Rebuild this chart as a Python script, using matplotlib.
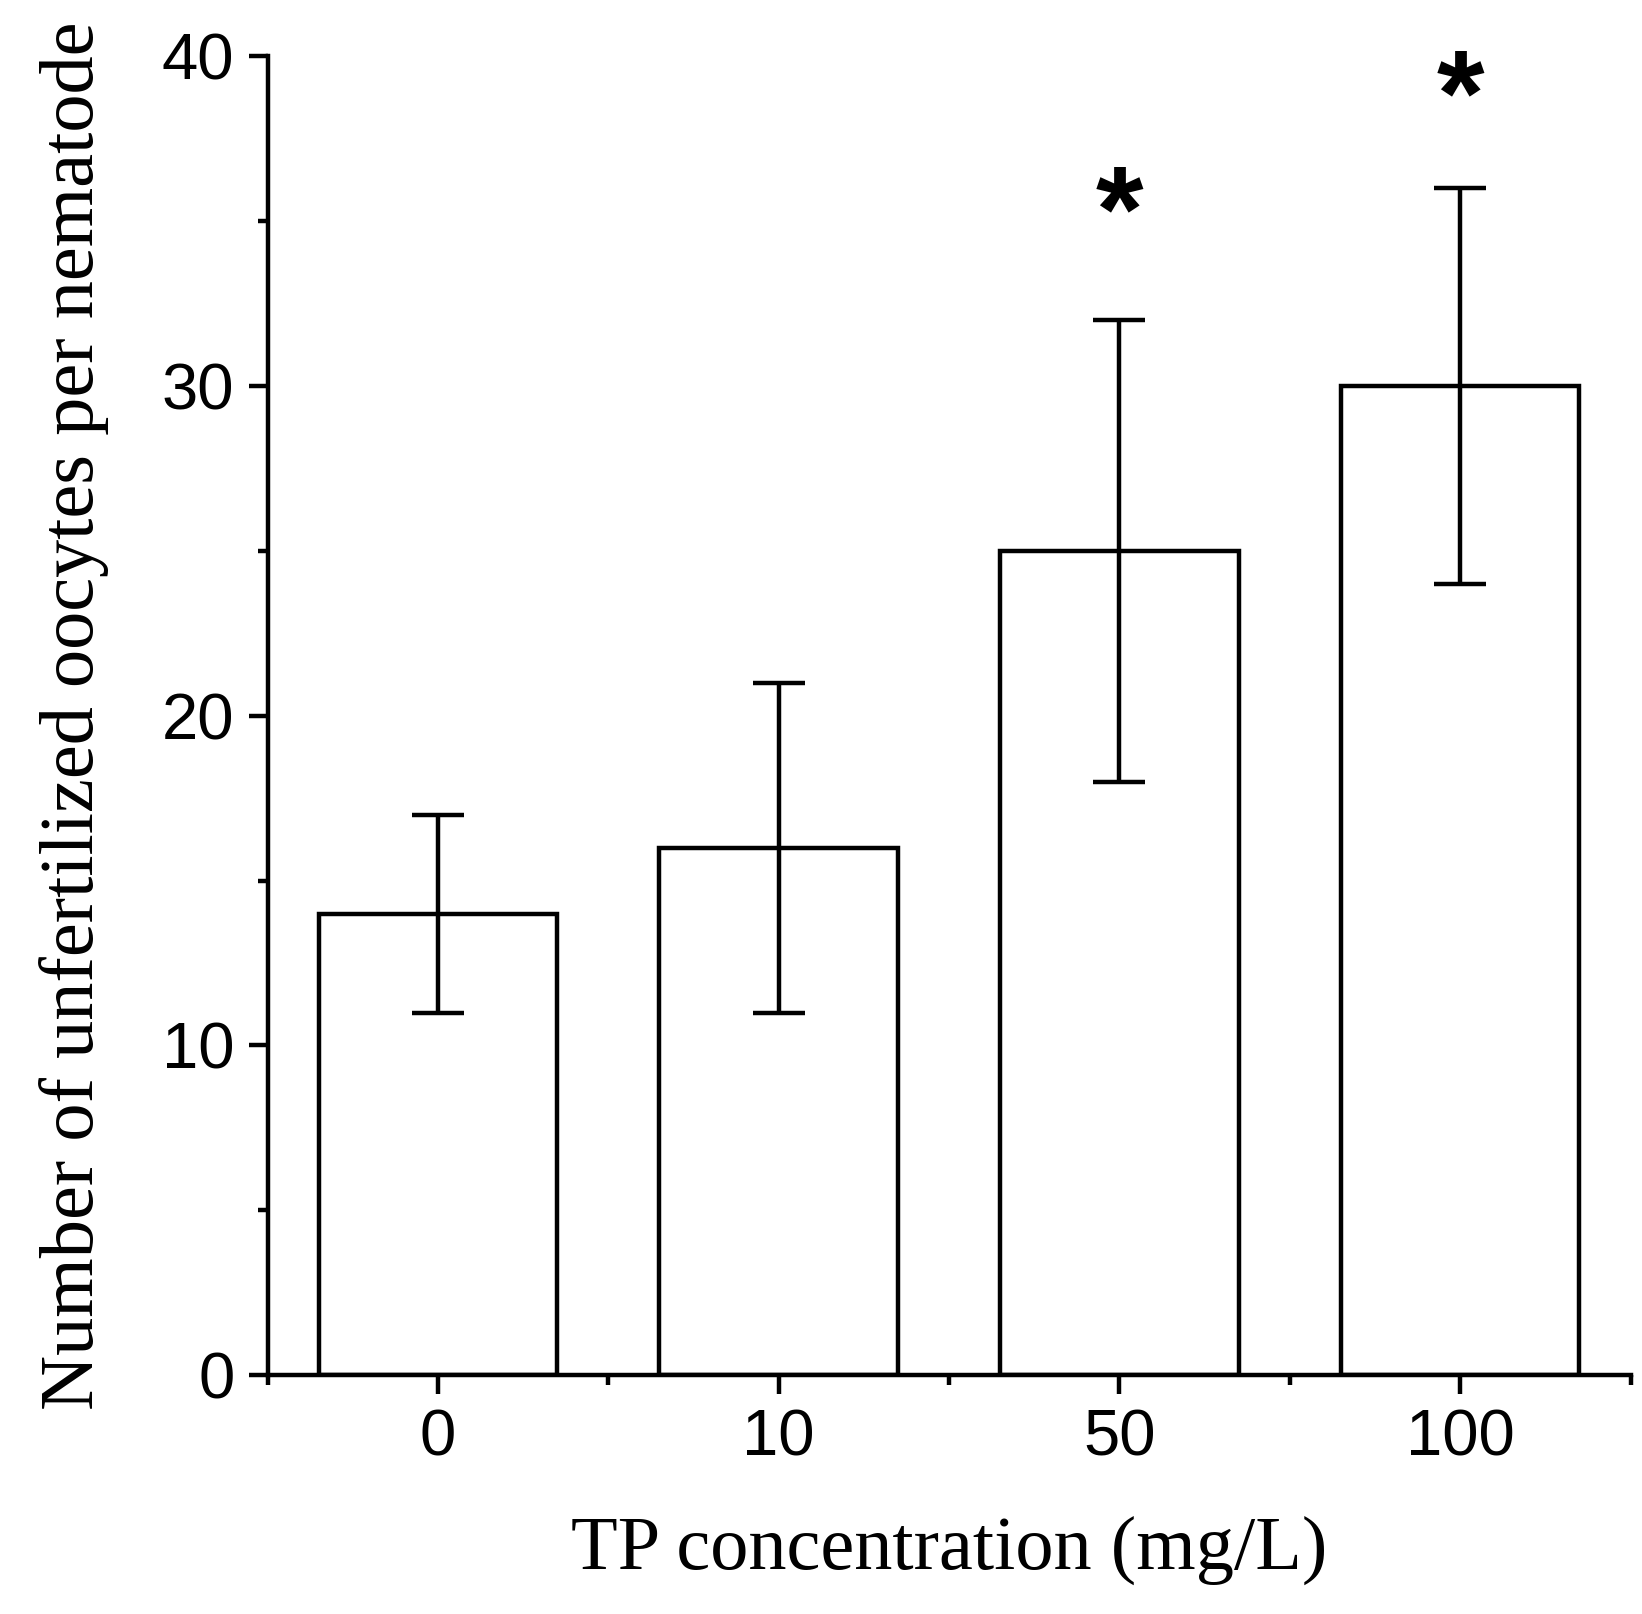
import numpy as np
import matplotlib
matplotlib.use("Agg")
import matplotlib.pyplot as plt
from matplotlib.ticker import MultipleLocator, FixedLocator

# data
conc_labels = ["0", "10", "50", "100"]
means = [14, 16, 25, 30]
err_low = [3, 5, 7, 6]
err_high = [3, 5, 7, 6]
signif = ["", "", "*", "*"]
star_y = [0, 0, 35.1, 38.6]

fig = plt.figure(figsize=(16.42, 16.14), dpi=100)
ax = fig.add_axes([0.163, 0.148, 0.830, 0.817])

xs = np.arange(len(means))
ax.bar(xs, means, width=0.70, color="white", edgecolor="black", linewidth=3.2, zorder=2)
ax.errorbar(xs, means, yerr=[err_low, err_high], fmt="none", ecolor="black",
            elinewidth=3.2, capsize=19, capthick=3.2, zorder=3)

for x, s, y in zip(xs, signif, star_y):
    if s:
        ax.text(x, y, s, ha="center", va="center", fontsize=88, fontweight="bold",
                family="Liberation Sans")

ax.set_xlim(-0.5, 3.5)
ax.set_ylim(0, 40)
ax.set_xticks(xs)
ax.set_xticklabels(conc_labels)
ax.xaxis.set_minor_locator(FixedLocator([-0.5, 0.5, 1.5, 2.5, 3.5]))
ax.yaxis.set_major_locator(MultipleLocator(10))
ax.yaxis.set_minor_locator(MultipleLocator(5))

for side in ["top", "right"]:
    ax.spines[side].set_visible(False)
for side in ["left", "bottom"]:
    ax.spines[side].set_linewidth(3.2)

ax.tick_params(which="major", direction="out", length=14, width=3.2, labelsize=47, pad=10)
ax.tick_params(which="minor", direction="out", length=7, width=3.2)
ax.tick_params(axis="y", which="major", pad=10)
for lab in ax.get_xticklabels() + ax.get_yticklabels():
    lab.set_family("Liberation Sans")

ax.set_xlabel("TP concentration (mg/L)", family="Liberation Serif", fontsize=55, labelpad=34)
ax.set_ylabel("Number of unfertilized oocytes per nematode", family="Liberation Serif",
              fontsize=55, labelpad=38)

fig.savefig("out.png", dpi=100)
